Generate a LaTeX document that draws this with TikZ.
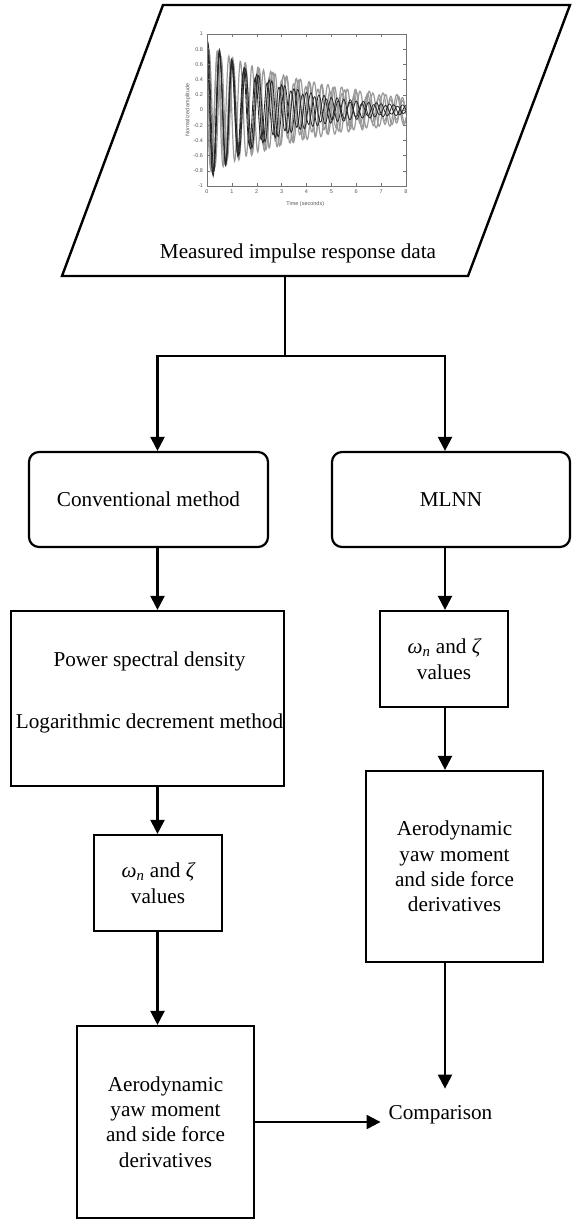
\documentclass[tikz,border=0pt]{standalone}
\usepackage{fontspec}
\setmainfont{Liberation Serif}
\setsansfont{Liberation Sans}
\usetikzlibrary{arrows.meta,calc}
\begin{document}
\begin{tikzpicture}[x=1pt,y=-1pt,line width=2.2pt,
  every node/.style={font=\fontsize{21.2}{25.4}\selectfont},
  box/.style={draw,line width=2.2pt,align=center,inner sep=0pt},
  rbox/.style={box,rounded corners=10pt},
  arr/.style={-{Triangle[width=14pt,length=14pt]},line width=2.2pt},
  ticklab/.style={font=\fontsize{5.5}{6}\sffamily,text=black!65,inner sep=0pt},
  curveg/.style={black!40,line width=1.2pt},
  curveb/.style={black!85,line width=0.8pt}]
\useasboundingbox (0,0) rectangle (572,1221);

% column guides
\coordinate (colL) at (157.5,0);
\coordinate (colR) at (445,0);

% input parallelogram
\coordinate (pA) at (62,276);
\coordinate (pB) at (163,5);
\coordinate (pC) at (570,5);
\coordinate (pD) at (468,276);
\draw[line width=2.4pt] (pA) -- (pB) -- (pC) -- (pD) -- cycle;
\node (meas) at (298,253) {Measured impulse response data};

% impulse response plot
\begin{scope}[shift={(207,110)},x=24.875pt,y=76pt]
  \begin{scope}
    \clip (0,-1) rectangle (8,1);
    \draw[curveg] plot[domain=0:8,samples=420] (\x,{0.85*exp(-0.20*\x)*cos(702*\x)});
    \draw[curveg] plot[domain=0:8,samples=420] (\x,{0.85*exp(-0.21*\x)*cos(774*\x+40)});
    \draw[curveg] plot[domain=0:8,samples=420] (\x,{0.80*exp(-0.18*\x)*cos(650*\x+80)});
    \draw[curveg] plot[domain=0:8,samples=420] (\x,{0.80*exp(-0.24*\x)*cos(740*\x-60)});
    \draw[curveb] plot[domain=0:8,samples=420] (\x,{0.95*exp(-0.35*\x)*cos(720*\x)});
    \draw[curveb] plot[domain=0:8,samples=420] (\x,{0.90*exp(-0.33*\x)*cos(684*\x+20)});
    \draw[curveb] plot[domain=0:8,samples=420] (\x,{0.90*exp(-0.38*\x)*cos(756*\x-30)});
  \end{scope}
  \draw[black!55,line width=0.5pt] (0,-1) rectangle (8,1);
  \foreach \t in {0,...,8}{
    \draw[black!55,line width=0.4pt] (\t,-1) -- ++(0,0.04);
    \draw[black!55,line width=0.4pt] (\t,1) -- ++(0,-0.04);
    \node[ticklab,anchor=north] (xt\t) at (\t,-1.03) {\t};
  }
  \foreach \v/\l [count=\i] in {1/1,0.8/0.8,0.6/0.6,0.4/0.4,0.2/0.2,0/0,-0.2/-0.2,-0.4/-0.4,-0.6/-0.6,-0.8/-0.8,-1/-1}{
    \draw[black!55,line width=0.4pt] (0,\v) -- ++(0.12,0);
    \draw[black!55,line width=0.4pt] (8,\v) -- ++(-0.12,0);
    \node[ticklab,anchor=east] (yt\i) at (-0.12,\v) {\l};
  }
  \node[ticklab,anchor=north] (xlab) at (3.95,-1.19) {Time (seconds)};
  \node[ticklab,rotate=90] (ylab) at (-0.77,0) {Normalized amplitude};
\end{scope}

% boxes
\node[rbox,minimum width=239pt,minimum height=95pt] (conv) at (148.5,499.5) {Conventional method};
\node[rbox,minimum width=238pt,minimum height=95pt] (mlnn) at (451,499.5) {MLNN};
\node[box,minimum width=273pt,minimum height=175pt] (psd) at (147.5,698.5) {};
\node[align=center,inner sep=0pt] (psdtext) at ($(psd.center)+(2,-6)$)
  {Power spectral density\\[36pt]Logarithmic decrement method};
\node[box,minimum width=128pt,minimum height=96pt] (omL) at (158,883)
  {{\itshape ω}\textsubscript{\itshape n} and {\itshape ζ}\\values};
\node[box,minimum width=128pt,minimum height=96pt] (omR) at (444,659)
  {{\itshape ω}\textsubscript{\itshape n} and {\itshape ζ}\\values};
\node[box,minimum width=177pt,minimum height=191pt] (aeroR) at (454.5,866.5)
  {Aerodynamic\\yaw moment\\and side force\\derivatives};
\node[box,minimum width=177pt,minimum height=192pt] (aeroL) at (165.5,1122)
  {Aerodynamic\\yaw moment\\and side force\\derivatives};
\node[inner xsep=7pt,inner ysep=16pt] (comp) at (440.5,1115) {Comparison};

% connectors
\coordinate (pb) at (285,276);
\coordinate (jn) at (285,356);
\draw (pb) -- (jn);
\draw[arr] (jn) -- (jn -| colL) -- (conv.north -| colL);
\draw[arr] (jn) -- (jn -| colR) -- (mlnn.north -| colR);
\draw[arr] (conv.south -| colL) -- (psd.north -| colL);
\draw[arr] (psd.south -| colL) -- (omL.north -| colL);
\draw[arr] (omL.south -| colL) -- (aeroL.north -| colL);
\draw[arr] (mlnn.south -| colR) -- (omR.north -| colR);
\draw[arr] (omR.south -| colR) -- (aeroR.north -| colR);
\draw[arr] (aeroR.south -| colR) -- (comp.north -| colR);
\draw[arr] (aeroL.east) -- (aeroL.east -| comp.west);
\end{tikzpicture}
\end{document}
